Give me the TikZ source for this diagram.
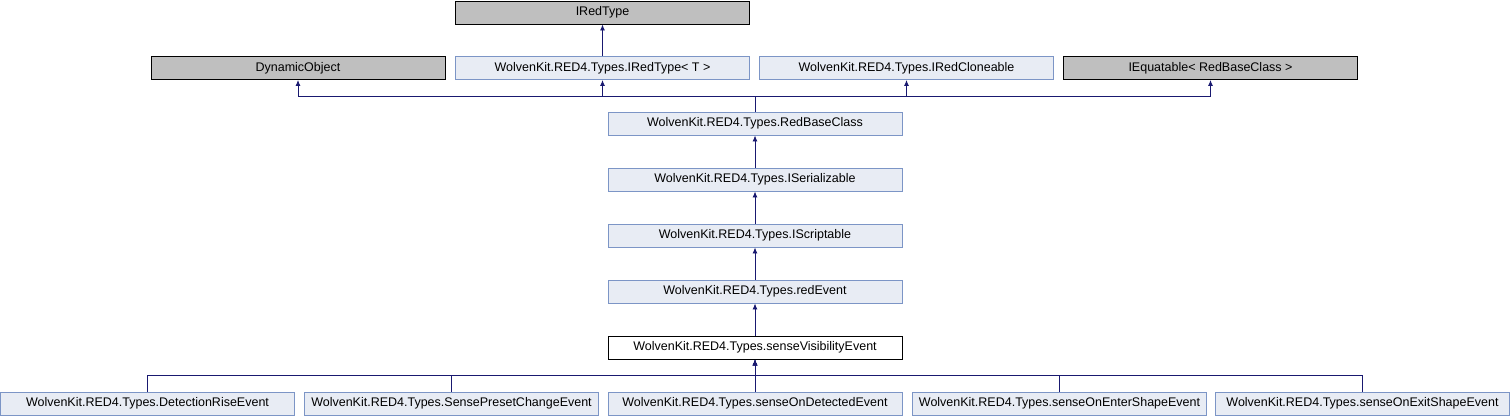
\documentclass[tikz,border=0pt]{standalone}
\usepackage{fontspec}
\setmainfont{Liberation Sans}
\usepackage{tikz}
\usetikzlibrary{arrows.meta,positioning}
\definecolor{classfill}{RGB}{232,236,244}
\definecolor{classdraw}{RGB}{124,149,198}
\definecolor{extfill}{RGB}{191,191,191}
\definecolor{edgeblue}{RGB}{25,25,112}

\begin{document}
\begin{tikzpicture}[
  x=1pt, y=1pt,
  font=\fontsize{12.5}{14}\selectfont,
  cls/.style={minimum width=294pt, minimum height=23pt, inner sep=0pt,
              draw, line width=0.9pt},
  docclass/.style={cls, fill=classfill, draw=classdraw},
  extclass/.style={cls, fill=extfill, draw=black},
  curclass/.style={cls, fill=white, draw=black},
  arrow/.style={-{Latex[length=6pt,width=5pt]}, line width=0.9pt, color=edgeblue}
]
\useasboundingbox (0,0) rectangle (1510,-416);

% Top row
\node[extclass] (iredtype) at (602.5,-12.5) {IRedType};

% Interfaces and bases
\node[extclass] (dynobj) at (298,-68) {DynamicObject};
\node[docclass] (iredtypet) at (602.5,-68) {WolvenKit.RED4.Types.IRedType< T >};
\node[docclass] (iredclone) at (906.5,-68) {WolvenKit.RED4.Types.IRedCloneable};
\node[extclass] (iequat) at (1210.5,-68) {IEquatable< RedBaseClass >};

% Main chain
\node[docclass] (redbase) at (755,-123.5) {WolvenKit.RED4.Types.RedBaseClass};
\node[docclass] (iserial) at (755,-179.5) {WolvenKit.RED4.Types.ISerializable};
\node[docclass] (iscript) at (755,-235.5) {WolvenKit.RED4.Types.IScriptable};
\node[docclass] (redevent) at (755,-291.5) {WolvenKit.RED4.Types.redEvent};
\node[curclass] (sensevis) at (755,-347.5) {WolvenKit.RED4.Types.senseVisibilityEvent};

% Derived events
\node[docclass] (detrise) at (147.5,-403.5) {WolvenKit.RED4.Types.DetectionRiseEvent};
\node[docclass] (presetchg) at (451.5,-403.5) {WolvenKit.RED4.Types.SensePresetChangeEvent};
\node[docclass] (ondetect) at (755,-403.5) {WolvenKit.RED4.Types.senseOnDetectedEvent};
\node[docclass] (onenter) at (1059.5,-403.5) {WolvenKit.RED4.Types.senseOnEnterShapeEvent};
\node[docclass] (onexit) at (1362.5,-403.5) {WolvenKit.RED4.Types.senseOnExitShapeEvent};

% Inheritance arrows, top
\draw[arrow] (iredtypet) -- (iredtype);
\draw[arrow] (redbase.north) -- ++(0,15) -| (dynobj.south);
\draw[arrow] (redbase.north) -- ++(0,15) -| (iredtypet.south);
\draw[arrow] (redbase.north) -- ++(0,15) -| (iredclone.south);
\draw[arrow] (redbase.north) -- ++(0,15) -| (iequat.south);

% Inheritance arrows, chain
\draw[arrow] (iserial) -- (redbase);
\draw[arrow] (iscript) -- (iserial);
\draw[arrow] (redevent) -- (iscript);
\draw[arrow] (sensevis) -- (redevent);

% Inheritance arrows, bottom
\draw[arrow] (detrise.north) -- ++(0,16) -| (sensevis.south);
\draw[arrow] (presetchg.north) -- ++(0,16) -| (sensevis.south);
\draw[arrow] (ondetect) -- (sensevis);
\draw[arrow] (onenter.north) -- ++(0,16) -| (sensevis.south);
\draw[arrow] (onexit.north) -- ++(0,16) -| (sensevis.south);

\end{tikzpicture}
\end{document}
